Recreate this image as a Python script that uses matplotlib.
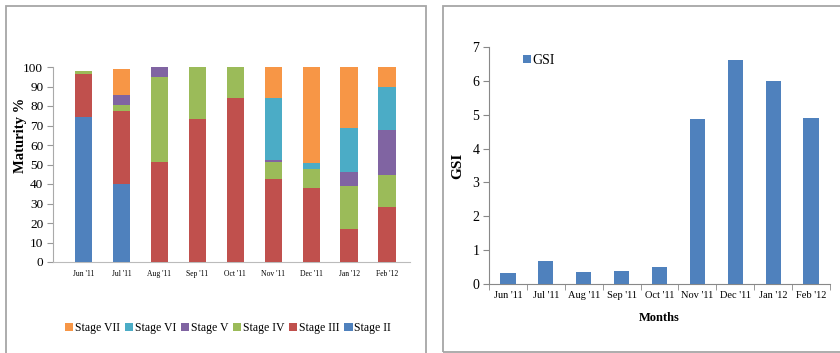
import numpy as np
import matplotlib
matplotlib.use("Agg")
import matplotlib.pyplot as plt
from matplotlib.patches import Rectangle

plt.rcParams['font.family'] = ['Liberation Serif', 'DejaVu Serif']

months = ["Jun '11", "Jul '11", "Aug '11", "Sep '11", "Oct '11",
          "Nov '11", "Dec '11", "Jan '12", "Feb '12"]

# maturity stages, % of fish per month
stage_ii = [74.5, 40, 0, 0, 0, 0, 0, 0, 0]
stage_iii = [22, 37.5, 51.5, 73.5, 84, 42.5, 38, 17, 28]
stage_iv = [1.5, 3, 43.5, 26.5, 16, 9, 9.5, 22, 16.5]
stage_v = [0, 5, 5, 0, 0, 1, 0, 7, 23]
stage_vi = [0, 0, 0, 0, 0, 31.5, 3.5, 22.5, 22.5]
stage_vii = [0, 13.5, 0, 0, 0, 16, 49, 31.5, 10]

gsi = [0.34, 0.69, 0.35, 0.39, 0.52, 4.86, 6.61, 6.0, 4.9]

stages = [("Stage II", stage_ii, "#4F81BD"),
          ("Stage III", stage_iii, "#C0504D"),
          ("Stage IV", stage_iv, "#9BBB59"),
          ("Stage V", stage_v, "#8064A2"),
          ("Stage VI", stage_vi, "#4BACC6"),
          ("Stage VII", stage_vii, "#F79646")]

fig = plt.figure(figsize=(8.4, 3.53), dpi=100)

# panel frames
fig.patches.append(Rectangle((6/840, -0.05), 420/840, 1.05 - 6/353, transform=fig.transFigure,
                             fill=False, edgecolor="#a6a6a6", lw=1.3))
fig.patches.append(Rectangle((443/840, 1/353), 0.6, 1 - 7/353, transform=fig.transFigure,
                             fill=False, edgecolor="#a6a6a6", lw=1.3))

# ---- left: maturity stages
ax1 = fig.add_axes([53/840, 91/353, 357/840, 195/353])
x = np.arange(len(months))
bottom = np.zeros(len(months))
handles = []
for name, vals, col in stages:
    b = ax1.bar(x, vals, 0.46, bottom=bottom, color=col, label=name, zorder=3)
    handles.append(b)
    bottom += np.array(vals)
ax1.set_ylim(0, 100)
ax1.set_xlim(-0.8, 8.6)
ax1.set_yticks(range(0, 101, 10))
ax1.tick_params(axis="y", labelsize=9.5, length=4, color="#999999", pad=3)
ax1.set_xticks(x)
ax1.set_xticklabels(months, fontsize=5.5)
ax1.tick_params(axis="x", length=0, pad=6)
for s in ["top", "right"]:
    ax1.spines[s].set_visible(False)
ax1.spines["left"].set_color("#aaaaaa")
ax1.spines["bottom"].set_color("#bbbbbb")
ax1.set_ylabel("Maturity %", fontsize=10.5, fontweight="bold")
ax1.yaxis.set_label_coords(-0.073, 0.65)
ax1.legend(handles[::-1], [s[0] for s in stages][::-1], loc="center",
           bbox_to_anchor=(228/840, 25/353), bbox_transform=fig.transFigure,
           ncol=6, frameon=False, fontsize=8.5, handlelength=0.7, handleheight=0.7,
           handletextpad=0.15, columnspacing=0.4)

# ---- right: GSI
ax2 = fig.add_axes([489/840, 68.7/353, 341/840, 237.6/353])
ax2.bar(x, gsi, 0.4, color="#4F81BD", label="GSI", zorder=3)
ax2.set_xlim(-0.5, 8.5)
ax2.set_ylim(0, 7)
ax2.set_yticks(range(0, 8))
ax2.tick_params(axis="y", labelsize=10, length=4, color="#888888", pad=3)
ax2.set_xticks(x)
ax2.set_xticklabels(months, fontsize=7.5)
ax2.set_xticks(np.arange(-0.5, 9, 1), minor=True)
ax2.tick_params(axis="x", which="major", length=0, pad=5)
ax2.tick_params(axis="x", which="minor", length=4, color="#888888")
for s in ["top", "right"]:
    ax2.spines[s].set_visible(False)
ax2.spines["left"].set_color("#888888")
ax2.spines["bottom"].set_color("#888888")
ax2.set_ylabel("GSI", fontsize=11, fontweight="bold", labelpad=6)
ax2.set_xlabel("Months", fontsize=9, fontweight="bold", labelpad=8.5)
ax2.legend(loc="center left", bbox_to_anchor=(0.1, 0.942), frameon=False, fontsize=10,
           handlelength=0.6, handleheight=0.6, handletextpad=0.1,
           borderpad=0, borderaxespad=0)

fig.savefig("out.png", dpi=100)
